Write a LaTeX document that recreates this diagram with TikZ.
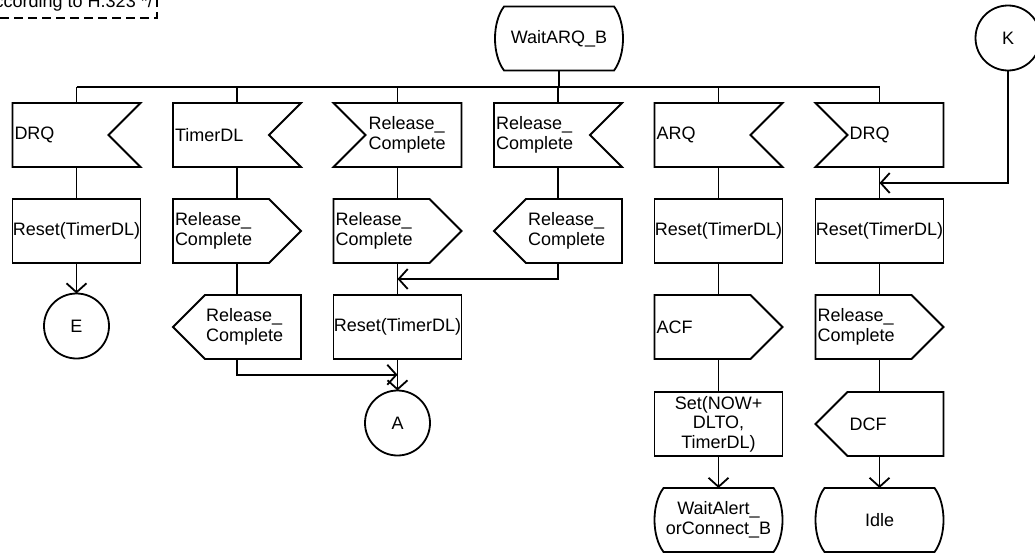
\documentclass[tikz,border=0pt]{standalone}
\usepackage{fontspec}
\setmainfont{Liberation Sans}
\usetikzlibrary{arrows.meta,calc}

\tikzset{
  every node/.style={font=\fontsize{18}{19.5}\selectfont},
  ln/.style={line width=1.8pt, line join=miter},
  flow/.style={ln, -{Straight Barb[length=9pt,width=20pt]}},
  blk/.style={minimum width=128pt, minimum height=64pt, inner sep=0pt, outer sep=0pt},
  lft/.style={blk, text width=124pt, align=left, inner xsep=2pt},
  ctr/.style={blk, align=center},
  lbl/.style={align=left, inner sep=0pt, anchor=west},
  task/.style={ctr, draw, ln},
  conn/.style={circle, draw, ln, minimum size=65pt, inner sep=0pt, outer sep=0pt},
}

% SDL symbol outlines, drawn round a named 128x64 node
\newcommand\sdlInR[1]{\draw[ln] (#1.north west) -- (#1.north east) -- ([xshift=-32pt]#1.east) -- (#1.south east) -- (#1.south west) -- cycle;}
\newcommand\sdlInL[1]{\draw[ln] (#1.north west) -- (#1.north east) -- (#1.south east) -- (#1.south west) -- ([xshift=32pt]#1.west) -- cycle;}
\newcommand\sdlOutR[1]{\draw[ln] (#1.north west) -- ([xshift=-32pt]#1.north east) -- (#1.east) -- ([xshift=-32pt]#1.south east) -- (#1.south west) -- cycle;}
\newcommand\sdlOutL[1]{\draw[ln] ([xshift=32pt]#1.north west) -- (#1.north east) -- (#1.south east) -- ([xshift=32pt]#1.south west) -- (#1.west) -- cycle;}
\newcommand\sdlState[1]{\draw[ln] ([xshift=9pt]#1.north west) -- ([xshift=-9pt]#1.north east)
  .. controls ([xshift=3pt,yshift=-16pt]#1.north east) and ([xshift=3pt,yshift=16pt]#1.south east) .. ([xshift=-9pt]#1.south east)
  -- ([xshift=9pt]#1.south west)
  .. controls ([xshift=-3pt,yshift=16pt]#1.south west) and ([xshift=-3pt,yshift=-16pt]#1.north west) .. cycle;}

\begin{document}
\begin{tikzpicture}[x=1pt,y=-1pt]
\useasboundingbox (0,0) rectangle (1035,554);

% comment
\draw[line width=1.6pt, dash pattern=on 9pt off 5pt] (0,18) -- (157,18) -- (157,0);
\node[anchor=base east, inner sep=0pt] (note) at (153,7.5) {ccording to H.323 */};

% start state and connector K
\node[ctr] (s0) at (559,38.5) {WaitARQ\_B};
\sdlState{s0}
\node[conn] (K) at (1008,38) {K};

% column 1
\node[lft] (c1a) at (76.5,135) {DRQ};               \sdlInR{c1a}
\node[task] (c1b) at (76.5,231) {Reset(TimerDL)};
\node[conn] (E) at (76.5,326) {E};

% column 2
\node[lft] (c2a) at (237,135) {TimerDL};            \sdlInR{c2a}
\node[lft] (c2b) at (237,231) {Release\_\\Complete}; \sdlOutR{c2b}
\node[blk] (c2c) at (237,327) {};                    \sdlOutL{c2c}
\node[lbl] (c2ct) at ([xshift=33pt]c2c.west) {Release\_\\Complete};

% column 3
\node[blk] (c3a) at (397.5,135) {};                  \sdlInL{c3a}
\node[lbl] (c3at) at ([xshift=35pt]c3a.west) {Release\_\\Complete};
\node[lft] (c3b) at (397.5,231) {Release\_\\Complete}; \sdlOutR{c3b}
\node[task] (c3c) at (397.5,327) {Reset(TimerDL)};
\node[conn] (A) at (397.5,423) {A};

% column 4
\node[lft] (c4a) at (558,135) {Release\_\\Complete}; \sdlInR{c4a}
\node[blk] (c4b) at (558,231) {};                    \sdlOutL{c4b}
\node[lbl] (c4bt) at ([xshift=34pt]c4b.west) {Release\_\\Complete};

% column 5
\node[lft] (c5a) at (718.5,135) {ARQ};               \sdlInR{c5a}
\node[task] (c5b) at (718.5,231) {Reset(TimerDL)};
\node[lft] (c5c) at (718.5,327) {ACF};               \sdlOutR{c5c}
\node[task] (c5d) at (718.5,424) {Set(NOW+\\DLTO,\\TimerDL)};
\node[ctr] (s5) at (718.5,520) {WaitAlert\_\\orConnect\_B}; \sdlState{s5}

% column 6
\node[blk] (c6a) at (879.5,135) {};                  \sdlInL{c6a}
\node[lbl] (c6at) at ([xshift=34pt]c6a.west) {DRQ};
\node[task] (c6b) at (879.5,231) {Reset(TimerDL)};
\node[lft] (c6c) at (879.5,327) {Release\_\\Complete}; \sdlOutR{c6c}
\node[blk] (c6d) at (879.5,424) {};                  \sdlOutL{c6d}
\node[lbl] (c6dt) at ([xshift=34pt]c6d.west) {DCF};
\node[ctr] (s6) at (879.5,520) {Idle};               \sdlState{s6}

% branching bus below the start state
\coordinate (bus) at (0,87);
\draw[ln] (c1a.north |- bus) -- (c6a.north |- bus);
\draw[ln] (s0.south) -- (s0.south |- bus);
\foreach \n in {c1a,c2a,c3a,c4a,c5a,c6a} \draw[ln] (\n.north |- bus) -- (\n.north);

% junction points
\coordinate (jA) at ($(c3c.south)!0.5!(A.north)$);
\coordinate (jB) at ($(c3b.south)!0.5!(c3c.north)$);
\coordinate (jK) at ($(c6a.south)!0.5!(c6b.north)$);

% flow lines
\draw[ln] (c1a.south) -- (c1b.north);
\draw[flow] (c1b.south) -- (E.north);

\draw[ln] (c2a.south) -- (c2b.north);
\draw[ln] (c2b.south) -- (c2c.north);
\draw[flow] (c2c.south) |- (jA);

\draw[ln] (c3a.south) -- (c3b.north);
\draw[ln] (c3b.south) -- (c3c.north);
\draw[flow] (c3c.south) -- (A.north);

\draw[ln] (c4a.south) -- (c4b.north);
\draw[flow] (c4b.south) |- (jB);

\draw[ln] (c5a.south) -- (c5b.north);
\draw[ln] (c5b.south) -- (c5c.north);
\draw[ln] (c5c.south) -- (c5d.north);
\draw[flow] (c5d.south) -- (s5.north);

\draw[flow] (K.south) |- (jK);
\draw[ln] (c6a.south) -- (c6b.north);
\draw[ln] (c6b.south) -- (c6c.north);
\draw[ln] (c6c.south) -- (c6d.north);
\draw[flow] (c6d.south) -- (s6.north);
\end{tikzpicture}
\end{document}
